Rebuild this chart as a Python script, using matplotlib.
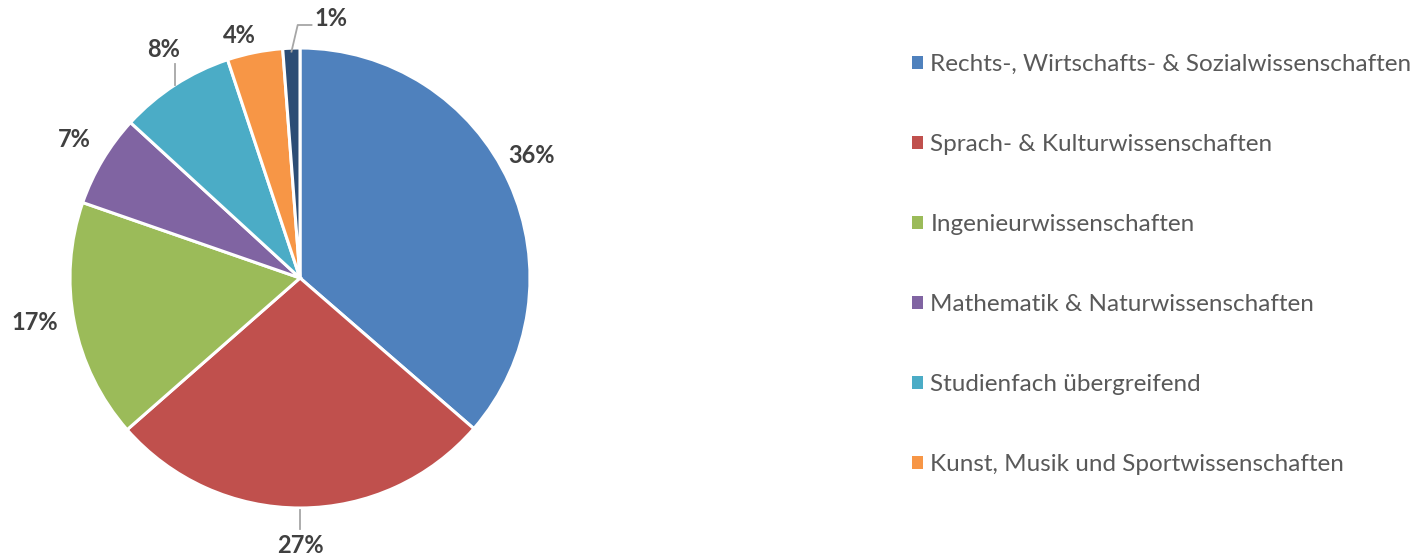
import matplotlib
matplotlib.use("Agg")
import matplotlib.pyplot as plt
from matplotlib.patches import Patch
import numpy as np

categories = [
    "Rechts-, Wirtschafts- & Sozialwissenschaften",
    "Sprach- & Kulturwissenschaften",
    "Ingenieurwissenschaften",
    "Mathematik & Naturwissenschaften",
    "Studienfach übergreifend",
    "Kunst, Musik und Sportwissenschaften",
    "Sonstige",
]
values = [36.4, 27.2, 16.8, 6.5, 8.1, 3.9, 1.2]
labels = ["36%", "27%", "17%", "7%", "8%", "4%", "1%"]
colors = ["#4F81BD", "#C0504D", "#9BBB59", "#8064A2", "#4BACC6", "#F79646", "#2C4D75"]
legend_count = 6

plt.rcParams['font.family'] = ['Lato', 'DejaVu Sans']

W, H = 1419, 556
fig = plt.figure(figsize=(W / 100, H / 100), dpi=100)
cx, cy, r = 300, H - 278, 230
ax = fig.add_axes([(cx - r) / W, (cy - r) / H, 2 * r / W, 2 * r / H])
wedges, _ = ax.pie(values, colors=colors, startangle=90, counterclock=False,
                   radius=1.0, wedgeprops=dict(edgecolor="white", linewidth=2.2))
ax.set_xlim(-1, 1)
ax.set_ylim(-1, 1)
ax.set_aspect("equal")
ax.axis("off")

# label layout: radial distance and angular shift (deg, counter-clockwise)
dists = [1.136, 1.165, 1.167, 1.152, 1.156, 1.087, 1.14]
shifts = [3.3, 0.0, -1.6, -0.8, -2.1, 2.6, 0.0]
lc = "#A6A6A6"
for i, (w, lab) in enumerate(zip(wedges, labels)):
    mid = np.deg2rad((w.theta1 + w.theta2) / 2 + shifts[i])
    d = dists[i]
    x, y = d * np.cos(mid), d * np.sin(mid)
    wm = np.deg2rad((w.theta1 + w.theta2) / 2)
    ex, ey = np.cos(wm), np.sin(wm)
    if i == 6:
        x, y = 0.135, 1.128
        ax.plot([0.985 * ex, -0.01, 0.05], [0.985 * ey, 1.10, 1.10], color=lc, lw=1.3, clip_on=False)
    if i == 1:
        ax.plot([0, 0], [-1.01, -1.09], color=lc, lw=1.3, clip_on=False)
    if i == 4:
        ax.plot([ex, ex], [ey, 0.93], color=lc, lw=1.3, clip_on=False)
    ax.text(x, y, lab, ha="center", va="center", fontsize=17, fontweight="bold",
            color="#404040", clip_on=False)

handles = [Patch(facecolor=c, edgecolor="none") for c in colors[:legend_count]]
fig.legend(handles, categories[:legend_count], loc="upper left",
           bbox_to_anchor=(902 / W, 1 - 44 / H), frameon=False,
           fontsize=17.5, labelcolor="#595959", handlelength=0.45, handleheight=0.45,
           handletextpad=0.32, labelspacing=2.43, borderaxespad=0)

fig.savefig("out.png", dpi=100, facecolor="white")
